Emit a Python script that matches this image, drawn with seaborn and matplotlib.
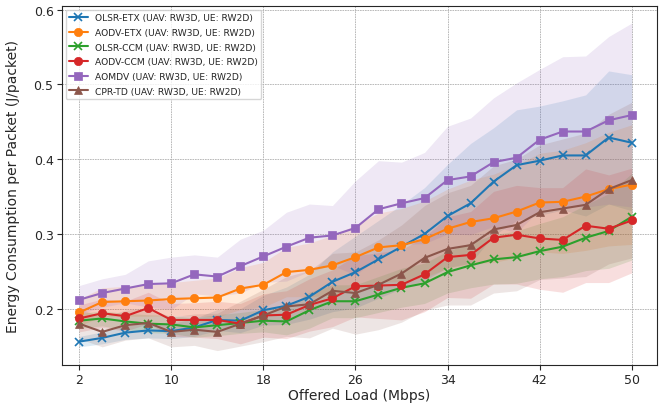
import numpy as np
import pandas as pd
import matplotlib
matplotlib.use("Agg")
import matplotlib.pyplot as plt
import seaborn as sns

load = [2, 4, 6, 8, 10, 12, 14, 16, 18, 20, 22, 24, 26, 28, 30, 32, 34, 36, 38, 40, 42, 44, 46, 48, 50]

olsr_etx = [0.156, 0.161, 0.168, 0.171, 0.170, 0.175, 0.185, 0.184, 0.198, 0.204, 0.216, 0.236, 0.249, 0.266, 0.283, 0.300, 0.324, 0.341, 0.370, 0.392, 0.398, 0.405, 0.405, 0.429, 0.422]
aodv_etx = [0.195, 0.209, 0.210, 0.211, 0.213, 0.214, 0.215, 0.227, 0.232, 0.249, 0.252, 0.258, 0.269, 0.282, 0.285, 0.293, 0.307, 0.316, 0.321, 0.330, 0.342, 0.343, 0.350, 0.360, 0.366]
olsr_ccm = [0.184, 0.187, 0.183, 0.180, 0.179, 0.175, 0.178, 0.181, 0.184, 0.183, 0.198, 0.210, 0.210, 0.219, 0.228, 0.234, 0.249, 0.258, 0.266, 0.269, 0.277, 0.283, 0.295, 0.304, 0.323]
aodv_ccm = [0.187, 0.194, 0.190, 0.201, 0.185, 0.185, 0.185, 0.180, 0.191, 0.192, 0.205, 0.214, 0.230, 0.231, 0.232, 0.246, 0.269, 0.272, 0.295, 0.299, 0.294, 0.292, 0.311, 0.307, 0.318]
aomdv = [0.212, 0.221, 0.227, 0.233, 0.234, 0.246, 0.243, 0.257, 0.270, 0.283, 0.295, 0.298, 0.308, 0.333, 0.341, 0.348, 0.372, 0.377, 0.396, 0.402, 0.426, 0.437, 0.437, 0.452, 0.459]
cpr_td = [0.180, 0.169, 0.178, 0.181, 0.169, 0.172, 0.169, 0.180, 0.191, 0.203, 0.206, 0.224, 0.221, 0.232, 0.247, 0.268, 0.280, 0.285, 0.306, 0.312, 0.329, 0.334, 0.339, 0.360, 0.372]

olsr_etx_sd = [0.007, 0.008, 0.009, 0.010, 0.010, 0.012, 0.014, 0.016, 0.020, 0.025, 0.030, 0.040, 0.048, 0.052, 0.056, 0.062, 0.069, 0.080, 0.072, 0.074, 0.073, 0.073, 0.081, 0.089, 0.091]
aodv_etx_sd = [0.018, 0.019, 0.020, 0.021, 0.022, 0.024, 0.026, 0.028, 0.030, 0.033, 0.036, 0.040, 0.043, 0.046, 0.049, 0.051, 0.053, 0.056, 0.059, 0.062, 0.066, 0.069, 0.072, 0.076, 0.080]
olsr_ccm_sd = [0.010, 0.010, 0.011, 0.012, 0.012, 0.013, 0.014, 0.014, 0.015, 0.018, 0.024, 0.022, 0.022, 0.024, 0.026, 0.027, 0.028, 0.030, 0.033, 0.035, 0.037, 0.040, 0.044, 0.050, 0.058]
aodv_ccm_sd = [0.018, 0.019, 0.020, 0.021, 0.022, 0.023, 0.025, 0.027, 0.029, 0.032, 0.035, 0.038, 0.041, 0.044, 0.047, 0.050, 0.054, 0.058, 0.062, 0.066, 0.068, 0.070, 0.076, 0.072, 0.070]
aomdv_sd = [0.019, 0.019, 0.019, 0.031, 0.035, 0.026, 0.026, 0.036, 0.035, 0.046, 0.045, 0.040, 0.063, 0.065, 0.055, 0.061, 0.072, 0.078, 0.086, 0.100, 0.094, 0.100, 0.101, 0.112, 0.123]
cpr_td_sd = [0.020, 0.020, 0.020, 0.020, 0.020, 0.021, 0.025, 0.030, 0.035, 0.040, 0.045, 0.050, 0.055, 0.060, 0.065, 0.070, 0.075, 0.080, 0.085, 0.088, 0.090, 0.093, 0.096, 0.100, 0.104]

labels = ["OLSR-ETX (UAV: RW3D, UE: RW2D)", "AODV-ETX (UAV: RW3D, UE: RW2D)",
          "OLSR-CCM (UAV: RW3D, UE: RW2D)", "AODV-CCM (UAV: RW3D, UE: RW2D)",
          "AOMDV (UAV: RW3D, UE: RW2D)", "CPR-TD (UAV: RW3D, UE: RW2D)"]
xticks = [2, 10, 18, 26, 34, 42, 50]
yticks = [0.2, 0.3, 0.4, 0.5, 0.6]

means = [olsr_etx, aodv_etx, olsr_ccm, aodv_ccm, aomdv, cpr_td]
sds = [olsr_etx_sd, aodv_etx_sd, olsr_ccm_sd, aodv_ccm_sd, aomdv_sd, cpr_td_sd]
markers = ["x", "o", "x", "o", "s", "^"]
colors = ["#1f77b4", "#ff7f0e", "#2ca02c", "#d62728", "#9467bd", "#8c564b"]

sns.set_style("ticks")
plt.rcParams['font.family'] = ['DejaVu Sans']

fig = plt.figure(figsize=(6.59, 4.06), dpi=100)
ax = fig.add_axes([0.094, 0.099, 0.903, 0.884])

rows = []
for lab, m in zip(labels, means):
    for x, y in zip(load, m):
        rows.append({"load": x, "energy": y, "protocol": lab})
df = pd.DataFrame(rows)

for lab, m, s, mk, c in zip(labels, means, sds, markers, colors):
    m = np.array(m); s = np.array(s)
    ax.fill_between(load, m - s, m + s, color=c, alpha=0.15, linewidth=0)
    sns.lineplot(data=df[df.protocol == lab], x="load", y="energy", ax=ax,
                 color=c, marker=mk, markersize=6, linewidth=1.5,
                 markeredgecolor=c, markeredgewidth=1.2 if mk == "x" else 0.5,
                 label=lab, errorbar=None)

ax.set_xlim(0.5, 52.2)
ax.set_ylim(0.125, 0.605)
ax.set_xticks(xticks)
ax.set_xticklabels([str(t) for t in xticks])
ax.set_yticks(yticks)
ax.set_yticklabels([f"{t:.1f}" for t in yticks])
ax.tick_params(labelsize=9, pad=2.5)
ax.set_xlabel("Offered Load (Mbps)", fontsize=10, labelpad=1)
ax.set_ylabel("Energy Consumption per Packet (J/packet)", fontsize=10, labelpad=10)
ax.grid(True, linestyle=(0, (2, 1)), color="#b0b0b0", linewidth=0.6)
for sp in ax.spines.values():
    sp.set_visible(True)
ax.legend(loc="upper left", fontsize=6.6, frameon=True, framealpha=0.8,
          handlelength=2.0, labelspacing=0.62, borderaxespad=0.4)

fig.savefig("out.png", dpi=100)
